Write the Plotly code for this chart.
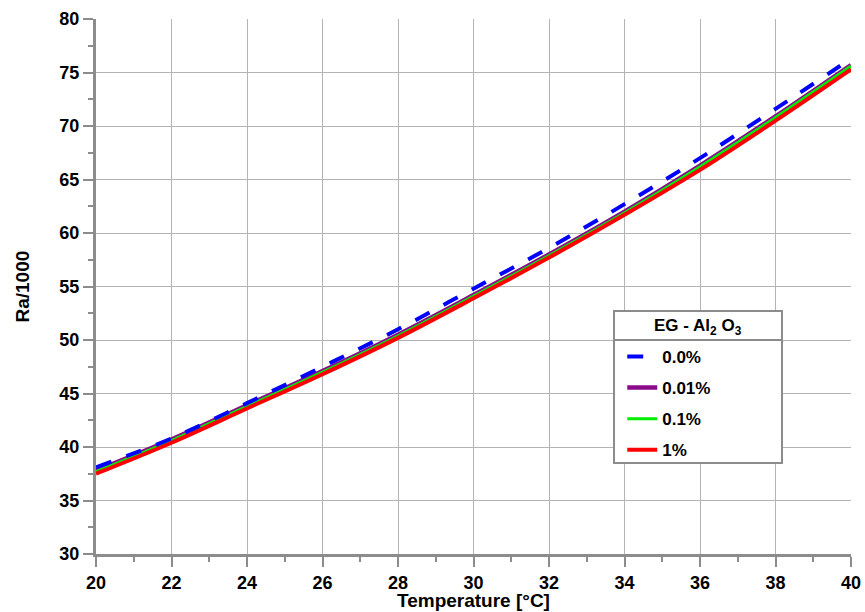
import plotly.graph_objects as go

temps = [20, 22, 24, 26, 28, 30, 32, 34, 36, 38, 40]
ra_00 = [38.1, 40.8, 44.1, 47.5, 51.0, 54.8, 58.6, 62.7, 67.0, 71.6, 76.3]
ra_001 = [37.8, 40.7, 43.9, 47.1, 50.5, 54.2, 58.0, 62.0, 66.3, 70.9, 75.7]
ra_01 = [37.7, 40.6, 43.8, 47.0, 50.4, 54.1, 57.9, 61.9, 66.2, 70.8, 75.6]
ra_1 = [37.5, 40.4, 43.6, 46.8, 50.2, 53.9, 57.7, 61.7, 65.9, 70.5, 75.3]

x_ticks = list(range(20, 41, 2))
y_ticks = list(range(30, 81, 5))

FONT = "Liberation Sans, Arial, sans-serif"
GRAY = "#8c8c8c"

fig = go.Figure()
fig.add_trace(go.Scatter(x=temps, y=ra_001, mode="lines", name="<b>0.01%</b>", legendrank=2,
                         legendgroup="b", line=dict(color="#8B0A8B", width=4.5, shape="spline")))
fig.add_trace(go.Scatter(x=temps, y=ra_01, mode="lines", name="<b>0.1%</b>", legendrank=3,
                         legendgroup="c", line=dict(color="#00EE00", width=3, shape="spline")))
fig.add_trace(go.Scatter(x=temps, y=ra_1, mode="lines", name="<b>1%</b>", legendrank=4,
                         legendgroup="d", line=dict(color="#FF0000", width=4, shape="spline")))
fig.add_trace(go.Scatter(x=temps, y=ra_00, mode="lines", name="<b>0.0%</b>", legendrank=1,
                         legendgroup="a", line=dict(color="#0000FF", width=4, dash="16px,16px", shape="spline")))

axis_common = dict(
    showgrid=True, gridcolor="#b4b4b4", gridwidth=1,
    showline=True, linecolor=GRAY, linewidth=3,
    ticks="outside", tickcolor=GRAY, ticklen=10, tickwidth=2,
    tickfont=dict(family=FONT, size=18, color="black", weight="bold"),
    zeroline=False, automargin=False,
)

fig.update_layout(
    width=865, height=612,
    margin=dict(l=96, r=14, t=19, b=58, autoexpand=False),
    paper_bgcolor="white", plot_bgcolor="white",
    xaxis=dict(range=[20, 40], tickvals=x_ticks,
               minor=dict(dtick=1, ticks="outside", ticklen=5, tickcolor=GRAY, tickwidth=2, showgrid=False),
               **axis_common),
    yaxis=dict(range=[30, 80], tickvals=y_ticks,
               minor=dict(dtick=2.5, ticks="outside", ticklen=5, tickcolor=GRAY, tickwidth=2, showgrid=False),
               **axis_common),
    legend=dict(
        x=0.697, y=0.402, xanchor="left", yanchor="top",
        bgcolor="rgba(0,0,0,0)", borderwidth=0,
        font=dict(family=FONT, size=17, color="black"),
        traceorder="grouped", tracegroupgap=6,
    ),
)

# axis titles
fig.add_annotation(text="<b>Temperature [°C]</b>", xref="paper", yref="paper", x=0.5, y=-0.086,
                   xanchor="center", yanchor="middle", showarrow=False,
                   font=dict(family=FONT, size=19, color="black"))
fig.add_annotation(text="<b>Ra/1000</b>", xref="paper", yref="paper", x=-0.098, y=0.5,
                   xanchor="center", yanchor="middle", showarrow=False, textangle=-90,
                   font=dict(family=FONT, size=19, color="black"))

# legend frame with header
bx0, bx1, by0, by1, sep = 0.6861, 0.9086, 0.1701, 0.4542, 0.400
fig.add_shape(type="rect", xref="paper", yref="paper", x0=bx0, x1=bx1, y0=by0, y1=by1,
              fillcolor="white", line=dict(color=GRAY, width=2), layer="above")
fig.add_shape(type="line", xref="paper", yref="paper", x0=bx0, x1=bx1, y0=sep, y1=sep,
              line=dict(color=GRAY, width=2), layer="above")
fig.add_annotation(text="<b>EG - Al<sub>2</sub> O<sub>3</sub></b>", xref="paper", yref="paper",
                   x=(bx0 + bx1) / 2, y=0.424, xanchor="center", yanchor="middle", showarrow=False,
                   font=dict(family=FONT, size=17, color="black"))

fig.write_html("out.html", config={"displayModeBar": False},
               post_script="document.body.style.margin='0';document.body.style.overflow='hidden';")
